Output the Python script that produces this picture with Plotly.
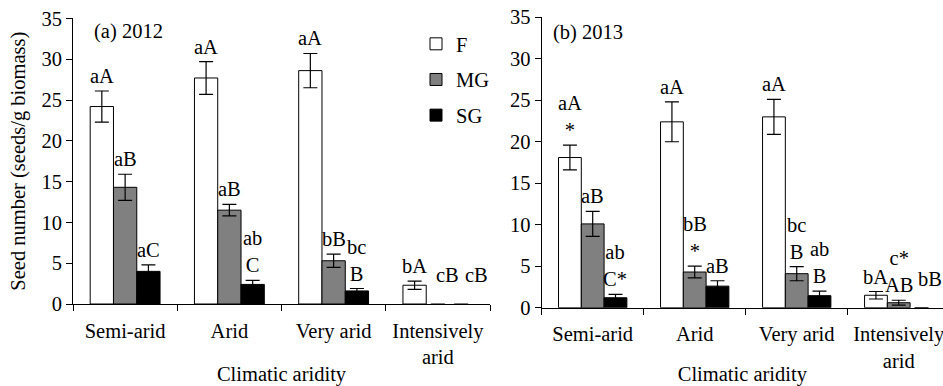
import plotly.graph_objects as go

categories = ["Semi-arid", "Arid", "Very arid", "Intensively<br>arid"]
series_names = ["F", "MG", "SG"]
series_colors = ["#ffffff", "#808080", "#000000"]

# 2012 (panel a)
f_2012 = [24.2, 27.7, 28.6, 2.3]
mg_2012 = [14.3, 11.5, 5.3, 0.0]
sg_2012 = [4.0, 2.4, 1.6, 0.0]
f_2012_err = [1.9, 2.0, 2.1, 0.5]
mg_2012_err = [1.6, 0.7, 0.8, 0.0]
sg_2012_err = [0.8, 0.5, 0.3, 0.0]
f_2012_lbl = ["aA", "aA", "aA", "bA"]
mg_2012_lbl = ["aB", "aB", "bB", "cB"]
sg_2012_lbl = ["aC", "ab<br>C", "bc<br>B", "cB"]

# 2013 (panel b)
f_2013 = [18.1, 22.4, 23.0, 1.5]
mg_2013 = [10.1, 4.3, 4.1, 0.6]
sg_2013 = [1.2, 2.6, 1.45, 0.0]
f_2013_err = [1.5, 2.4, 2.1, 0.45]
mg_2013_err = [1.5, 0.7, 0.85, 0.3]
sg_2013_err = [0.4, 0.65, 0.55, 0.0]
f_2013_lbl = ["aA<br>*", "aA", "aA", "bA"]
mg_2013_lbl = ["aB", "bB<br>*", "bc<br>B", "c*<br>AB"]
sg_2013_lbl = ["ab<br>C*", "aB", "ab<br>B", "bB"]

FONT = "Liberation Serif"
FS = 20.5
W, H = 943, 386

panels = [
    dict(xa="x", ya="y", vals=[f_2012, mg_2012, sg_2012],
         errs=[f_2012_err, mg_2012_err, sg_2012_err],
         lbls=[f_2012_lbl, mg_2012_lbl, sg_2012_lbl], legend=True, zshift=[10, 15]),
    dict(xa="x2", ya="y2", vals=[f_2013, mg_2013, sg_2013],
         errs=[f_2013_err, mg_2013_err, sg_2013_err],
         lbls=[f_2013_lbl, mg_2013_lbl, sg_2013_lbl], legend=False, zshift=[10, 8]),
]

fig = go.Figure()
bargap = 0.33
bw = (1 - bargap) / 3
annotations = []
for p in panels:
    for k in range(3):
        vals = p["vals"][k]
        errs = p["errs"][k]
        fig.add_trace(go.Bar(
            x=categories, y=vals, name=series_names[k],
            legendgroup=series_names[k], showlegend=p["legend"],
            marker=dict(color=series_colors[k],
                        line=dict(color="black", width=[0 if v == 0 else 1 for v in vals])),
            error_y=dict(type="data", array=[None if e == 0 else e for e in errs],
                         color="black", thickness=1.2, width=7, visible=True),
            xaxis=p["xa"], yaxis=p["ya"],
        ))
        for i in range(len(categories)):
            v = vals[i]
            e = errs[i]
            ys = 2
            xs = 0
            if v == 0:
                ys = 16
                xs = p["zshift"][k - 1]
            annotations.append(dict(
                x=i + (k - 1) * bw, y=v + e, xref=p["xa"], yref=p["ya"],
                text=p["lbls"][k][i], showarrow=False, yanchor="bottom",
                xanchor="center", yshift=ys, xshift=xs,
                font=dict(family=FONT, size=FS, color="black"),
            ))

annotations.append(dict(x=92 / W, y=1 - 32 / H, xref="paper", yref="paper",
                        text="(a) 2012", showarrow=False, xanchor="left",
                        yanchor="middle", font=dict(family=FONT, size=FS, color="black")))
annotations.append(dict(x=551 / W, y=1 - 33 / H, xref="paper", yref="paper",
                        text="(b) 2013", showarrow=False, xanchor="left",
                        yanchor="middle", font=dict(family=FONT, size=FS, color="black")))

xcommon = dict(showline=True, linecolor="black", linewidth=1, ticks="outside",
               tickson="boundaries", ticklen=6, tickcolor="black", showgrid=False,
               automargin=False, ticklabelstandoff=8,
               tickfont=dict(family=FONT, size=FS, color="black"),
               title=dict(text="Climatic aridity", standoff=1,
                          font=dict(family=FONT, size=FS, color="black")))
ycommon = dict(showline=True, linecolor="black", linewidth=1, ticks="outside",
               ticklen=6, tickcolor="black", showgrid=False, zeroline=False,
               range=[0, 35], dtick=5, automargin=False,
               tickfont=dict(family=FONT, size=FS, color="black"))

fig.update_layout(
    width=W, height=H,
    margin=dict(l=0, r=0, t=0, b=0),
    paper_bgcolor="white", plot_bgcolor="white",
    barmode="group", bargap=bargap, bargroupgap=0,
    font=dict(family=FONT, size=FS, color="black"),
    showlegend=True,
    legend=dict(x=416 / W, y=1 - 24 / H, xanchor="left", yanchor="top",
                font=dict(family=FONT, size=FS, color="black"),
                tracegroupgap=6, bgcolor="rgba(0,0,0,0)"),
    xaxis=dict(domain=[73 / W, 490 / W], anchor="y", range=[-0.5, 3.5], **xcommon),
    yaxis=dict(domain=[1 - 304 / H, 1 - 18.4 / H], anchor="x",
               title=dict(text="Seed number (seeds/g biomass)", standoff=10,
                          font=dict(family=FONT, size=FS, color="black")),
               **ycommon),
    xaxis2=dict(domain=[541.7 / W, 1.0], anchor="y2", range=[-0.5, 3.434], **xcommon),
    yaxis2=dict(domain=[1 - 307.7 / H, 1 - 17.3 / H], anchor="x2", **ycommon),
    annotations=annotations,
)

fig.write_html("out.html")
